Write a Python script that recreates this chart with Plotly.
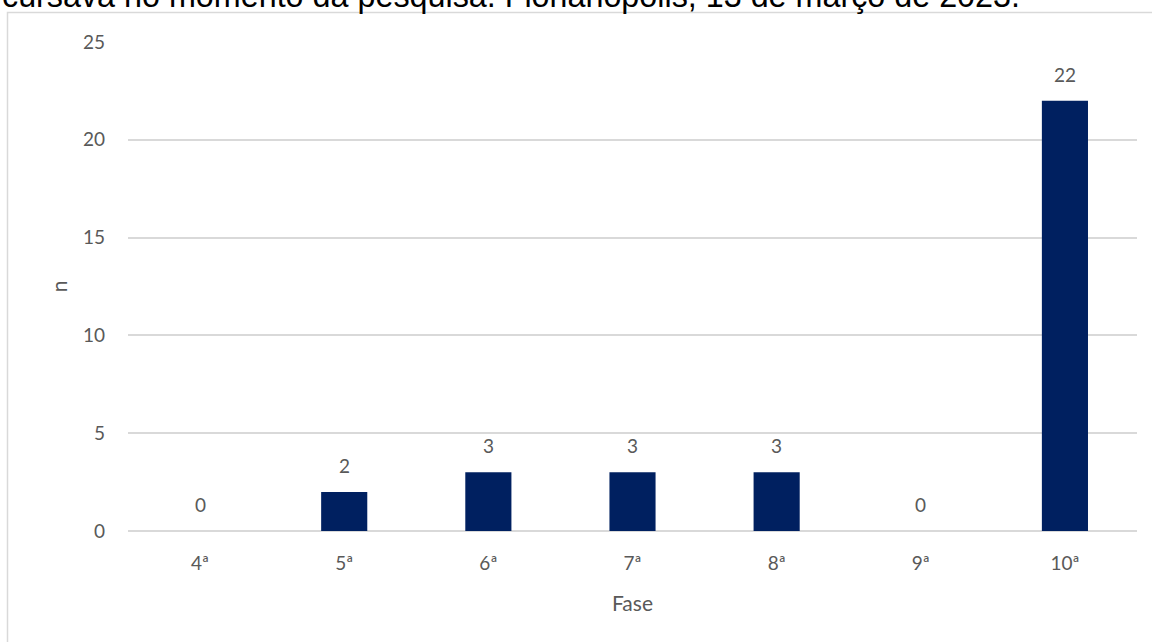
import plotly.graph_objects as go

categories = ["4ª", "5ª", "6ª", "7ª", "8ª", "9ª", "10ª"]
values = [0, 2, 3, 3, 3, 0, 22]
y_ticks = [0, 5, 10, 15, 20, 25]
caption = "cursava no momento da pesquisa. Florianópolis, 13 de março de 2023."

W, H = 1152, 642
L, R, T, B = 128, 15, 42, 111
pw, ph = W - L - R, H - T - B

def px_x(p):
    return (p - L) / pw

def px_y(p):
    return (H - B - p) / ph

text_color = "#595959"
font_family = "Lato, Carlito, Calibri, sans-serif"

fig = go.Figure()
fig.add_trace(go.Bar(
    x=categories, y=values,
    marker=dict(color="#002060", line=dict(width=0)),
    hoverinfo="skip",
))

for c, v in zip(categories, values):
    fig.add_annotation(
        x=c, y=v, xref="x", yref="y", text=str(v), showarrow=False,
        yanchor="bottom", yshift=13,
        font=dict(family=font_family, size=19, color=text_color),
    )

fig.add_annotation(
    x=px_x(0), y=px_y(16), xref="paper", yref="paper", xanchor="left", yanchor="bottom",
    text=caption, showarrow=False,
    font=dict(family="Liberation Sans, Arial, sans-serif", size=32.3, color="#000000"),
)

fig.add_shape(
    type="rect", xref="paper", yref="paper",
    x0=px_x(7.5), x1=px_x(1170), y0=px_y(660), y1=px_y(12.5),
    line=dict(color="#d9d9d9", width=1.5), fillcolor="rgba(0,0,0,0)", layer="below",
)

fig.update_layout(
    width=W, height=H,
    margin=dict(l=L, r=R, t=T, b=B, pad=0),
    paper_bgcolor="white", plot_bgcolor="white",
    bargap=0.68,
    showlegend=False,
    font=dict(family=font_family, size=19, color=text_color),
)

fig.update_xaxes(
    type="category", showgrid=False, showline=False, ticks="",
    ticklabelstandoff=19,
    tickfont=dict(family=font_family, size=19, color=text_color),
    title=dict(text="Fase", font=dict(family=font_family, size=21, color=text_color), standoff=23),
)
fig.update_yaxes(
    range=[0, 25], tickvals=y_ticks, showgrid=True, gridcolor="#d9d9d9", gridwidth=1.5,
    zeroline=True, zerolinecolor="#d9d9d9", zerolinewidth=1.5, showline=False, ticks="",
    ticklabelstandoff=22,
    tickfont=dict(family=font_family, size=19, color=text_color),
    title=dict(text="n", font=dict(family=font_family, size=21, color=text_color), standoff=9),
)

fig.write_html("out.html")
